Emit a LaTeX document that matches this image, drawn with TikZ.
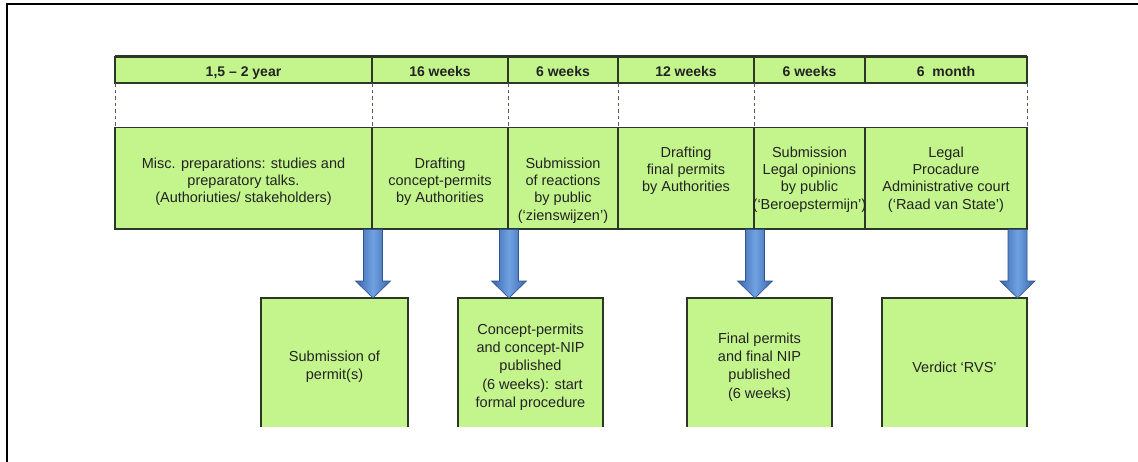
\documentclass[tikz,border=0pt]{standalone}
\usepackage{fontspec}
\setmainfont{Liberation Sans}
\usetikzlibrary{calc}
\definecolor{cellgreen}{RGB}{196,244,140}
\definecolor{edgegray}{RGB}{45,55,40}
\definecolor{txtgray}{RGB}{35,35,35}
\definecolor{arrowdark}{RGB}{58,102,172}
\definecolor{arrowlight}{RGB}{112,162,226}
\definecolor{arrowedge}{RGB}{45,82,145}
\begin{document}
\begin{tikzpicture}[x=1pt,y=-1pt,
  cell/.style={draw=edgegray, line width=1.4pt, fill=cellgreen, inner sep=0pt, outer sep=0pt, anchor=north west},
  hdrtext/.style={font=\fontsize{14}{16}\selectfont\bfseries, text=txtgray, anchor=base, inner sep=0pt, yshift=-6.5pt},
  celltext/.style={font=\fontsize{14.5}{17.3}\selectfont, text=txtgray, align=center, anchor=north, inner sep=0pt},
  boxshape/.style={fill=cellgreen, inner sep=0pt, outer sep=0pt, anchor=north west, minimum height=129pt},
  boxedge/.style={draw=edgegray, line width=1.3pt},
  boxtext/.style={font=\fontsize{14.5}{18.3}\selectfont, text=txtgray, align=center, inner sep=0pt, yshift=-4.5pt},
  dashline/.style={draw=edgegray!80, line width=1pt, dash pattern=on 3.5pt off 3pt},
  frameline/.style={draw=black, line width=2pt},
  blockarrow/.style={left color=arrowdark, right color=arrowdark, middle color=arrowlight,
    draw=arrowedge, line width=0.6pt,
    to path={let \p1=(\tikztostart), \p2=(\tikztotarget) in
      (\x1-9.5pt,\y1) -- (\x1+9.5pt,\y1) -- (\x1+9.5pt,\y2+17pt) -- (\x1+17.5pt,\y2+17pt)
      -- (\x1,\y2) -- (\x1-17.5pt,\y2+17pt) -- (\x1-9.5pt,\y2+17pt) -- cycle}}
]
\useasboundingbox (0,0) rectangle (1138,461);

% outer frame (only top and left edges visible)
\coordinate (fbl) at (7.3,462);
\coordinate (ftl) at (7.3,4.3);
\coordinate (ftr) at (1139,4.3);
\draw[frameline] (fbl) -- (ftl) -- (ftr);

% header row
\node[cell, minimum width=257pt, minimum height=26.5pt] (h1) at (115,56.5) {};
\node[cell, minimum width=136pt, minimum height=26.5pt] (h2) at (372,56.5) {};
\node[cell, minimum width=110pt, minimum height=26.5pt] (h3) at (508,56.5) {};
\node[cell, minimum width=136pt, minimum height=26.5pt] (h4) at (618,56.5) {};
\node[cell, minimum width=111pt, minimum height=26.5pt] (h5) at (754,56.5) {};
\node[cell, minimum width=162pt, minimum height=26.5pt] (h6) at (865,56.5) {};
\draw[edgegray, line width=2.2pt] (h1.north west) -- (h6.north east);

\node[hdrtext] (l1) at (h1.center) {1,5 – 2 year};
\node[hdrtext] (l2) at (h2.center) {16 weeks};
\node[hdrtext] (l3) at (h3.center) {6 weeks};
\node[hdrtext] (l4) at (h4.center) {12 weeks};
\node[hdrtext] (l5) at (h5.center) {6 weeks};
\node[hdrtext] (l6) at (h6.center) {6\ \ month};

% main row
\node[cell, minimum width=257pt, minimum height=101.5pt] (m1) at (115,127.5) {};
\node[cell, minimum width=136pt, minimum height=101.5pt] (m2) at (372,127.5) {};
\node[cell, minimum width=110pt, minimum height=101.5pt] (m3) at (508,127.5) {};
\node[cell, minimum width=136pt, minimum height=101.5pt] (m4) at (618,127.5) {};
\node[cell, minimum width=111pt, minimum height=101.5pt] (m5) at (754,127.5) {};
\node[cell, minimum width=162pt, minimum height=101.5pt] (m6) at (865,127.5) {};

% dashed separators in the blank band
\draw[dashline] (h1.south west) -- (m1.north west);
\draw[dashline] (h2.south west) -- (m2.north west);
\draw[dashline] (h3.south west) -- (m3.north west);
\draw[dashline] (h4.south west) -- (m4.north west);
\draw[dashline] (h5.south west) -- (m5.north west);
\draw[dashline] (h6.south east) -- (m6.north east);

\node[celltext, yshift=-30pt] (c1) at (m1.north) {Misc. preparations: studies and\\preparatory talks.\\(Authoriuties/ stakeholders)};
\node[celltext, yshift=-30pt] (c2) at (m2.north) {Drafting\\concept-permits\\by Authorities};
\node[celltext, yshift=-30pt] (c3) at (m3.north) {Submission\\of reactions\\by public\\(`zienswijzen')};
\node[celltext, yshift=-19pt] (c4) at (m4.north) {Drafting\\final permits\\by Authorities};
\node[celltext, yshift=-19pt] (c5) at (m5.north) {Submission\\Legal opinions\\by public\\(`Beroepstermijn')};
\node[celltext, yshift=-19pt] (c6) at (m6.north) {Legal\\Procadure\\Administrative court\\(`Raad van State')};

% lower boxes (open at the bottom)
\node[boxshape, minimum width=147pt] (b1) at (261,298) {};
\node[boxshape, minimum width=145pt] (b2) at (458,298) {};
\node[boxshape, minimum width=145pt] (b3) at (687,298) {};
\node[boxshape, minimum width=145pt] (b4) at (882,298) {};
\draw[boxedge] (b1.south west) -- (b1.north west) -- (b1.north east) -- (b1.south east);
\draw[boxedge] (b2.south west) -- (b2.north west) -- (b2.north east) -- (b2.south east);
\draw[boxedge] (b3.south west) -- (b3.north west) -- (b3.north east) -- (b3.south east);
\draw[boxedge] (b4.south west) -- (b4.north west) -- (b4.north east) -- (b4.south east);

\node[boxtext] (t1) at (b1.center) {Submission of\\permit(s)};
\node[boxtext] (t2) at (b2.center) {Concept-permits\\and concept-NIP\\published\\\ (6 weeks): start\\formal procedure};
\node[boxtext] (t3) at (b3.center) {Final permits\\and final NIP\\published\\(6 weeks)};
\node[boxtext] (t4) at (b4.center) {Verdict `RVS'};

% block arrows
\coordinate (a1) at (373,229.5);
\coordinate (a2) at (509,229.5);
\coordinate (a3) at (755,229.5);
\coordinate (a4) at (1017.5,229.5);
\path[blockarrow] (a1) to (a1 |- b1.north);
\path[blockarrow] (a2) to (a2 |- b2.north);
\path[blockarrow] (a3) to (a3 |- b3.north);
\path[blockarrow] (a4) to (a4 |- b4.north);
\end{tikzpicture}
\end{document}
